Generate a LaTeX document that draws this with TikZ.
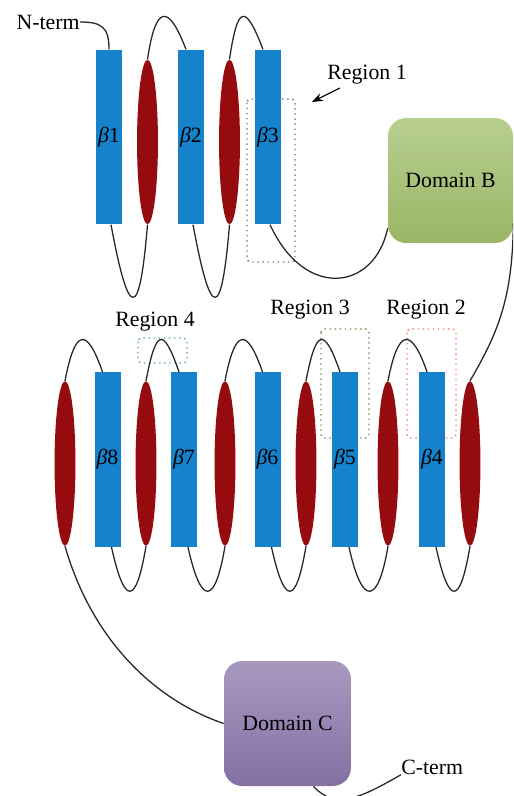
\documentclass[tikz,border=0pt]{standalone}
\usepackage{fontspec}
\setmainfont{Liberation Serif}
\usepackage{tikz}
\usetikzlibrary{shapes.geometric,arrows.meta,calc}

\definecolor{strandblue}{RGB}{22,130,204}
\definecolor{helixred}{RGB}{150,12,14}
\definecolor{domgreen}{RGB}{160,190,106}
\definecolor{dompurple}{RGB}{138,118,170}
\definecolor{regA}{RGB}{140,112,112}
\definecolor{regB}{RGB}{232,128,106}
\definecolor{regC}{RGB}{128,140,80}
\definecolor{regD}{RGB}{90,160,182}

\begin{document}
\begin{tikzpicture}[x=0.55pt, y=-0.55pt, font=\fontsize{12}{14}\selectfont,
    strand/.style={rectangle, fill=strandblue, minimum width=14.3pt, minimum height=96pt, inner sep=0pt},
    helix/.style={ellipse, fill=helixred, minimum width=11.5pt, minimum height=90.5pt, inner sep=0pt},
    dombox/.style={rounded corners=10pt, minimum width=68.75pt, minimum height=68.75pt, inner sep=0pt},
    chain/.style={draw=black!85, line width=0.7pt},
    region/.style={dash pattern=on 0.8pt off 2pt, line width=0.8pt, rounded corners=2pt},
    lbl/.style={inner sep=0pt}]

  \useasboundingbox (0,0) rectangle (513,796);
  \clip (0,0) rectangle (513,796);

  % dotted regions, behind the strands
  \draw[region, regA] (247,99) rectangle (295,262);
  \draw[region, regB] (407,329) rectangle (456,438);
  \draw[region, regC] (321,329) rectangle (369,438);
  \draw[region, regD] (138,338) rectangle (187,363);

  % first sheet
  \node[strand] (b1) at (109,137) {{\itshape β}1};
  \node[helix]  (h1) at (147.5,142) {};
  \node[strand] (b2) at (191,137) {{\itshape β}2};
  \node[helix]  (h2) at (229.5,142) {};
  \node[strand] (b3) at (268,137) {{\itshape β}3};

  % second sheet, chain runs right to left
  \node[helix]  (h3) at (470,463.5) {};
  \node[strand] (b4) at (432,459.5) {{\itshape β}4};
  \node[helix]  (h4) at (388,463.5) {};
  \node[strand] (b5) at (345,459.5) {{\itshape β}5};
  \node[helix]  (h5) at (306,463.5) {};
  \node[strand] (b6) at (267.5,459.5) {{\itshape β}6};
  \node[helix]  (h6) at (225,463.5) {};
  \node[strand] (b7) at (184,459.5) {{\itshape β}7};
  \node[helix]  (h7) at (146,463.5) {};
  \node[strand] (b8) at (107.5,459.5) {{\itshape β}8};
  \node[helix]  (h8) at (65,463.5) {};

  % domains
  \node[dombox, top color=domgreen!75!white, middle color=domgreen, bottom color=domgreen!96!black] (domB) at (450.5,180.5) {Domain B};
  \node[dombox, top color=dompurple!75!white, middle color=dompurple, bottom color=dompurple!96!black, minimum width=69.8pt] (domC) at (287.5,723.5) {Domain C};

  % labels
  \node[lbl, anchor=east] (nterm) at (80,22) {N-term};
  \node[lbl, anchor=west] (cterm) at (401,767) {C-term};
  \node[lbl] (reg1) at (367,75) {Region 1};
  \node[lbl] (reg2) at (426,310) {Region 2};
  \node[lbl] (reg3) at (310,310) {Region 3};
  \node[lbl] (reg4) at (155,322) {Region 4};

  \coordinate (r1tail) at ($(reg1.south west)+(13,3)$);
  \coordinate (r1tip) at (312,102);
  \draw[-{Stealth[length=6pt,width=4.5pt]}, line width=0.6pt] (r1tail) -- (r1tip);

  % loops of the first sheet
  \draw[chain] (nterm.east) .. controls +(22,0) and +(0,-22) .. (b1.north);
  \draw[chain] (h1.north) .. controls +(8,-54) and +(-18,-47) .. ($(b2.north)+(-5,0)$);
  \draw[chain] (h2.north) .. controls +(8,-54) and +(-18,-47) .. ($(b3.north)+(-5,0)$);
  \draw[chain] ($(b1.south)+(2,0)$) .. controls +(18,97) and +(-8,97) .. (h1.south);
  \draw[chain] ($(b2.south)+(2,0)$) .. controls +(18,97) and +(-8,97) .. (h2.south);
  \draw[chain] ($(b3.south)+(2,0)$) .. controls +(35,76) and +(-13,62) .. ($(domB.south west)+(0,-15)$);
  \draw[chain] ($(domB.south east)+(0,-20)$) .. controls +(-1,72) and +(30,-51) .. (h3.north);

  % loops of the second sheet
  \draw[chain] (h4.north) .. controls +(10,-52) and +(-16,-46) .. ($(b4.north)+(-5,0)$);
  \draw[chain] (h5.north) .. controls +(10,-52) and +(-16,-46) .. ($(b5.north)+(-5,0)$);
  \draw[chain] (h6.north) .. controls +(10,-52) and +(-16,-46) .. ($(b6.north)+(-5,0)$);
  \draw[chain] (h7.north) .. controls +(10,-52) and +(-16,-46) .. ($(b7.north)+(-5,0)$);
  \draw[chain] (h8.north) .. controls +(10,-52) and +(-16,-46) .. ($(b8.north)+(-5,0)$);
  \draw[chain] ($(b4.south)+(4,0)$) .. controls +(13,59) and +(-10,60) .. (h3.south);
  \draw[chain] ($(b5.south)+(4,0)$) .. controls +(13,59) and +(-10,60) .. (h4.south);
  \draw[chain] ($(b6.south)+(4,0)$) .. controls +(13,59) and +(-10,60) .. (h5.south);
  \draw[chain] ($(b7.south)+(4,0)$) .. controls +(13,59) and +(-10,60) .. (h6.south);
  \draw[chain] ($(b8.south)+(4,0)$) .. controls +(13,59) and +(-10,60) .. (h7.south);

  % tail to domain C and C-terminus
  \draw[chain] (h8.south) .. controls +(27,94) and +(-69,-23.5) .. (domC.west);
  \draw[chain] ($(domC.south)+(26,0)$) .. controls +(22,24) and +(-40,23) .. (cterm.south west);
\end{tikzpicture}
\end{document}
